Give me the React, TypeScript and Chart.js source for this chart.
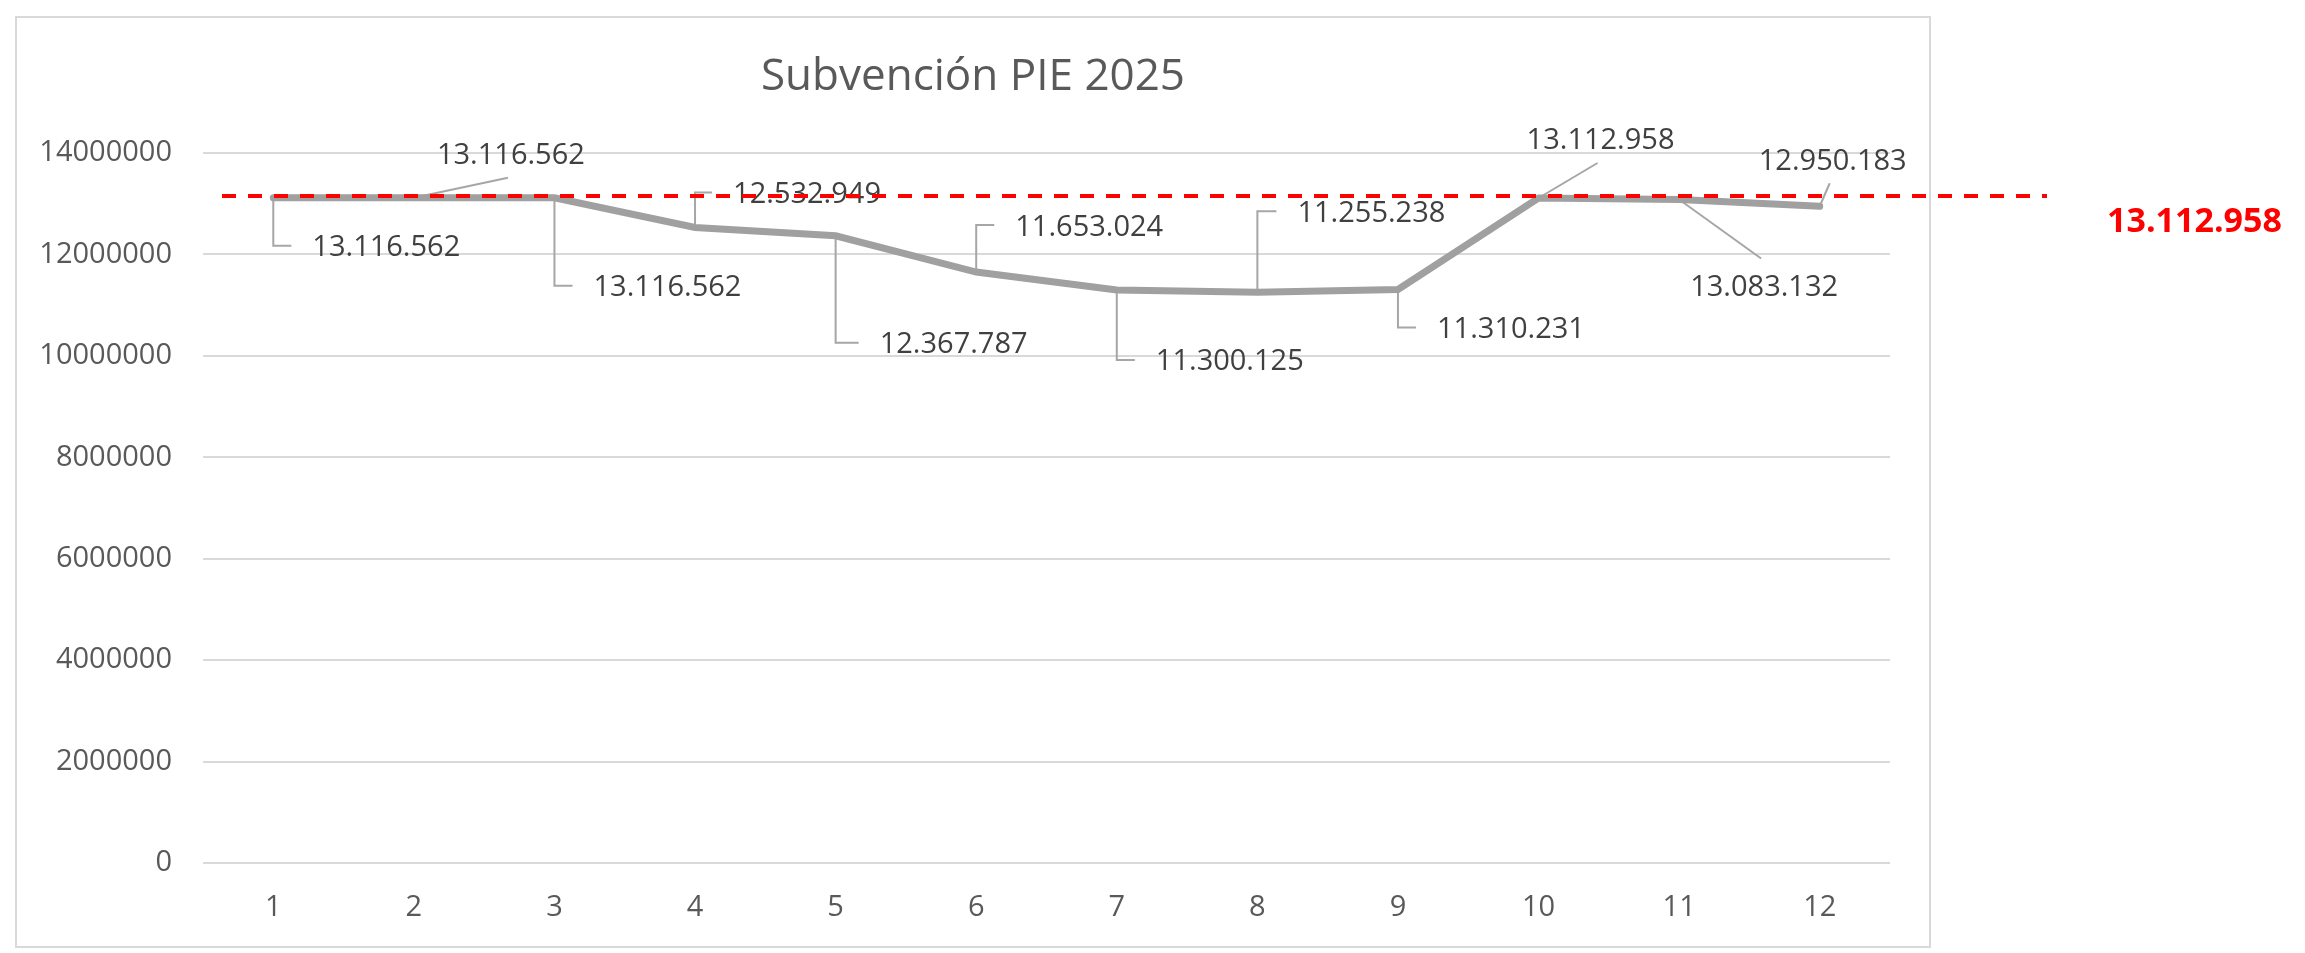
import React, { useEffect, useRef } from "react";
import { Chart, registerables } from "chart.js";

Chart.register(...registerables);

// ---------- data ----------
const months: string[] = ["1", "2", "3", "4", "5", "6", "7", "8", "9", "10", "11", "12"];
const subvencion: number[] = [
  13116562, 13116562, 13116562, 12532949, 12367787, 11653024,
  11300125, 11255238, 11310231, 13112958, 13083132, 12950183,
];
const referenceValue = 13112958;
const yMin = 0;
const yMax = 14000000;
const yStep = 2000000;
const titleText = "Subvención PIE 2025";

// ---------- label layout (pixel offsets of label centre from its point) ----------
type LabelPos = { dx: number; dy: number; kind: "elbow" | "diag" };
const labelLayout: LabelPos[] = [
  { dx: 113, dy: 48, kind: "elbow" },
  { dx: 97, dy: -44, kind: "diag" },
  { dx: 113, dy: 88, kind: "elbow" },
  { dx: 112, dy: -35, kind: "elbow" },
  { dx: 118, dy: 107, kind: "elbow" },
  { dx: 113, dy: -47, kind: "elbow" },
  { dx: 113, dy: 70, kind: "elbow" },
  { dx: 114, dy: -81, kind: "elbow" },
  { dx: 113, dy: 38, kind: "elbow" },
  { dx: 62, dy: -59, kind: "diag" },
  { dx: 85, dy: 86, kind: "diag" },
  { dx: 13, dy: -47, kind: "diag" },
];

const FONT = "'Open Sans', 'DejaVu Sans', sans-serif";

function fmt(v: number): string {
  return String(Math.round(v)).replace(/\B(?=(\d{3})+(?!\d))/g, ".");
}

const decorPlugin = {
  id: "decor",
  beforeDraw(chart: any) {
    const ctx = chart.ctx as CanvasRenderingContext2D;
    ctx.save();
    ctx.fillStyle = "#ffffff";
    ctx.fillRect(0, 0, chart.width, chart.height);
    ctx.strokeStyle = "#d9d9d9";
    ctx.lineWidth = 2;
    ctx.strokeRect(16, 17, 1914, 930);
    // title
    ctx.fillStyle = "#595959";
    ctx.font = `44px ${FONT}`;
    ctx.textAlign = "center";
    ctx.textBaseline = "alphabetic";
    ctx.fillText(titleText, 973, 90);
    ctx.restore();
  },
  beforeDatasetsDraw(chart: any) {
    const ctx = chart.ctx as CanvasRenderingContext2D;
    const meta = chart.getDatasetMeta(0);
    ctx.save();
    ctx.font = `29px ${FONT}`;
    ctx.strokeStyle = "#a6a6a6";
    ctx.lineWidth = 2;
    meta.data.forEach((pt: any, i: number) => {
      const lay = labelLayout[i];
      const text = fmt(subvencion[i]);
      const w = ctx.measureText(text).width;
      const cx = pt.x + lay.dx;
      const cy = pt.y + lay.dy;
      ctx.beginPath();
      if (lay.kind === "elbow") {
        const left = cx - w / 2;
        ctx.moveTo(pt.x, pt.y);
        ctx.lineTo(pt.x, cy);
        ctx.lineTo(Math.max(pt.x + 4, left - 21), cy);
      } else {
        ctx.moveTo(pt.x, pt.y);
        ctx.lineTo(cx - 3, cy + (lay.dy < 0 ? 24 : -27));
      }
      ctx.stroke();
    });
    ctx.restore();
  },
  afterDatasetsDraw(chart: any) {
    const ctx = chart.ctx as CanvasRenderingContext2D;
    const meta = chart.getDatasetMeta(0);
    const area = chart.chartArea;
    const yScale = chart.scales.y;
    ctx.save();
    // data labels
    ctx.font = `29px ${FONT}`;
    ctx.fillStyle = "#404040";
    ctx.textAlign = "center";
    ctx.textBaseline = "alphabetic";
    meta.data.forEach((pt: any, i: number) => {
      const lay = labelLayout[i];
      ctx.fillText(fmt(subvencion[i]), pt.x + lay.dx, pt.y + lay.dy + 10.5);
    });
    // reference dashed line
    const ry = yScale.getPixelForValue(referenceValue) - 2;
    const x0 = area.left + 19;
    const x1 = area.right + 157;
    ctx.strokeStyle = "#ff0000";
    ctx.lineWidth = 4;
    ctx.setLineDash([14, 12]);
    ctx.beginPath();
    ctx.moveTo(x0, ry);
    ctx.lineTo(x1, ry);
    ctx.stroke();
    ctx.setLineDash([]);
    // reference label
    ctx.font = `bold 34px ${FONT}`;
    ctx.fillStyle = "#ff0000";
    ctx.textAlign = "left";
    ctx.fillText(fmt(referenceValue), x1 + 60, ry + 36);
    ctx.restore();
  },
};

export default function App() {
  const ref = useRef<HTMLCanvasElement | null>(null);

  useEffect(() => {
    if (!ref.current) return;
    const chart = new Chart(ref.current, {
      type: "line",
      data: {
        labels: months,
        datasets: [
          {
            label: "Subvención PIE 2025",
            data: subvencion,
            borderColor: "#a0a0a0",
            borderWidth: 7,
            pointRadius: 0,
            tension: 0,
            fill: false,
            borderCapStyle: "round",
          },
        ],
      },
      options: {
        responsive: false,
        animation: false,
        layout: { padding: { top: 153, right: 415, bottom: 0, left: 0 } },
        plugins: {
          legend: { display: false },
          title: { display: false },
          tooltip: { enabled: false },
        },
        scales: {
          x: {
            offset: true,
            grid: { display: false, drawTicks: false },
            border: { display: false },
            ticks: { font: { family: FONT, size: 29 }, color: "#595959", padding: 27 },
            afterFit: (s: any) => {
              s.height = 90;
            },
          },
          y: {
            min: yMin,
            max: yMax,
            grid: { color: "#d9d9d9", lineWidth: 2, drawTicks: false },
            border: { display: false },
            ticks: {
              stepSize: yStep,
              font: { family: FONT, size: 29 },
              color: "#595959",
              padding: 31,
              callback: (v: any) => String(v),
            },
            afterFit: (s: any) => {
              s.width = 203;
            },
          },
        },
      },
      plugins: [decorPlugin],
    } as any);
    return () => chart.destroy();
  }, []);

  return (
    <div style={{ position: "fixed", left: 0, top: 0, width: 2305, height: 953, background: "#fff" }}>
      <canvas ref={ref} width={2305} height={953} style={{ display: "block" }} />
    </div>
  );
}
